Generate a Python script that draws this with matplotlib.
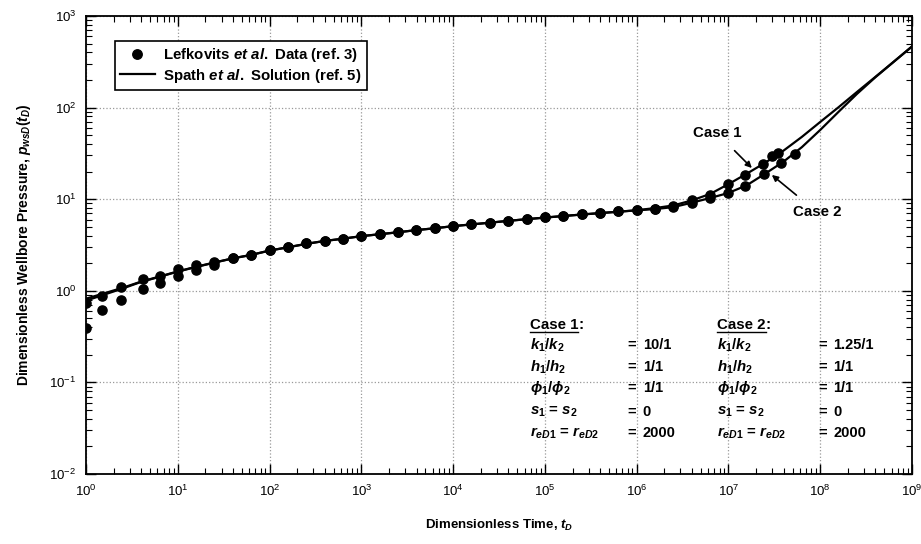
import numpy as np
import matplotlib
matplotlib.use("Agg")
import matplotlib.pyplot as plt
from matplotlib.ticker import LogLocator, NullFormatter
from matplotlib.lines import Line2D

plt.rcParams['font.family'] = ['Liberation Sans', 'DejaVu Sans']
plt.rcParams['mathtext.fontset'] = 'custom'
plt.rcParams['mathtext.rm'] = 'Liberation Sans:bold'
plt.rcParams['mathtext.it'] = 'Liberation Sans:italic:bold'
plt.rcParams['mathtext.bf'] = 'Liberation Sans:bold'

# ---- Data ----
# Solution curves (Spath et al.)
line_t = [1.0, 1.585, 2.512, 3.981, 6.31, 10.0, 15.85, 25.12, 39.81, 63.1,
          1.0e2, 1.585e2, 2.512e2, 3.981e2, 6.31e2, 1.0e3, 1.585e3, 2.512e3, 3.981e3, 6.31e3,
          1.0e4, 1.585e4, 2.512e4, 3.981e4, 6.31e4, 1.0e5, 1.585e5, 2.512e5, 3.981e5, 6.31e5,
          1.0e6, 1.585e6, 2.512e6, 3.981e6, 6.31e6, 1.0e7, 1.585e7, 2.512e7, 3.981e7, 6.31e7,
          1.0e8, 1.585e8, 2.512e8, 3.981e8, 6.31e8, 1.0e9]
case1_line = [0.82, 0.94, 1.08, 1.26, 1.43, 1.63, 1.83, 2.04, 2.26, 2.47,
              2.75, 2.99, 3.26, 3.50, 3.71, 3.95, 4.15, 4.36, 4.60, 4.82,
              5.08, 5.31, 5.54, 5.80, 6.05, 6.30, 6.55, 6.80, 7.05, 7.30,
              7.58, 8.00, 8.55, 9.70, 11.4, 14.6, 19.0, 25.0, 33.9, 47.9,
              69.7, 101.0, 148.0, 216.0, 316.0, 465.0]
case2_line = [0.78, 0.91, 1.06, 1.25, 1.42, 1.62, 1.82, 2.03, 2.26, 2.46,
              2.75, 2.98, 3.25, 3.50, 3.70, 3.95, 4.14, 4.35, 4.60, 4.81,
              5.08, 5.30, 5.54, 5.80, 6.05, 6.30, 6.55, 6.80, 7.05, 7.30,
              7.55, 7.80, 8.20, 9.15, 10.3, 11.7, 14.2, 19.0, 25.7, 37.0,
              57.0, 90.0, 141.0, 214.0, 316.0, 465.0]

# Lefkovits et al. data
case1_t = [1.0, 1.5, 2.4, 4.17, 6.46, 10.0, 15.85, 25.12, 39.81, 63.1,
           1.0e2, 1.585e2, 2.512e2, 3.981e2, 6.31e2, 1.0e3, 1.585e3, 2.512e3, 3.981e3, 6.31e3,
           1.0e4, 1.585e4, 2.512e4, 3.981e4, 6.31e4, 1.0e5, 1.585e5, 2.512e5, 3.981e5, 6.31e5,
           1.0e6, 1.585e6, 2.512e6, 3.981e6, 6.31e6, 1.0e7, 1.5e7, 2.35e7, 3.0e7, 3.45e7]
case1_p = [0.73, 0.88, 1.11, 1.34, 1.45, 1.72, 1.91, 2.08, 2.26, 2.46,
           2.79, 2.98, 3.30, 3.53, 3.68, 3.96, 4.14, 4.35, 4.61, 4.81,
           5.09, 5.32, 5.54, 5.82, 6.08, 6.34, 6.60, 6.90, 7.10, 7.40,
           7.60, 7.85, 8.45, 9.70, 11.2, 14.5, 18.5, 24.4, 29.3, 32.3]
case2_t = [1.0, 1.5, 2.4, 4.17, 6.46, 10.0, 15.85, 25.12, 39.81, 63.1,
           1.0e2, 1.585e2, 2.512e2, 3.981e2, 6.31e2, 1.0e3, 1.585e3, 2.512e3, 3.981e3, 6.31e3,
           1.0e4, 1.585e4, 2.512e4, 3.981e4, 6.31e4, 1.0e5, 1.585e5, 2.512e5, 3.981e5, 6.31e5,
           1.0e6, 1.585e6, 2.512e6, 3.981e6, 6.31e6, 1.0e7, 1.5e7, 2.45e7, 3.7e7, 5.25e7]
case2_p = [0.39, 0.61, 0.79, 1.04, 1.22, 1.45, 1.69, 1.91, 2.26, 2.46,
           2.79, 2.98, 3.30, 3.53, 3.68, 3.96, 4.14, 4.35, 4.61, 4.81,
           5.09, 5.32, 5.54, 5.82, 6.08, 6.34, 6.60, 6.90, 7.10, 7.40,
           7.55, 7.75, 8.20, 9.20, 10.3, 11.7, 13.8, 19.0, 24.6, 30.9]

case1_params = [r"$k_1/k_2$", r"$h_1/h_2$", r"$\phi_1/\phi_2$", r"$s_1$ = $s_2$",
                r"$r_{eD1}$ = $r_{eD2}$"]
case1_values = ["10/1", "1/1", "1/1", "0", "2000"]
case2_params = case1_params
case2_values = ["1.25/1", "1/1", "1/1", "0", "2000"]

# ---- Figure ----
fig = plt.figure(figsize=(9.21, 5.44), dpi=100)
ax = fig.add_axes([86/921, 70/544, 826/921, 458/544])
ax.set_xscale('log')
ax.set_yscale('log')
ax.set_xlim(1, 1e9)
ax.set_ylim(1e-2, 1e3)

ax.plot(line_t, case1_line, color='black', lw=1.6, zorder=3)
ax.plot(line_t, case2_line, color='black', lw=1.6, zorder=3)
ax.plot(case1_t, case1_p, 'o', color='black', ms=6.6, zorder=4)
ax.plot(case2_t, case2_p, 'o', color='black', ms=6.6, zorder=4)

ax.xaxis.set_major_locator(LogLocator(base=10, numticks=100))
ax.yaxis.set_major_locator(LogLocator(base=10, numticks=100))
ax.xaxis.set_minor_locator(LogLocator(base=10, subs=np.arange(2, 10), numticks=100))
ax.yaxis.set_minor_locator(LogLocator(base=10, subs=np.arange(2, 10), numticks=100))
ax.xaxis.set_minor_formatter(NullFormatter())
ax.yaxis.set_minor_formatter(NullFormatter())
ax.tick_params(which='both', direction='in', top=True, right=True, labelsize=9.5)
ax.tick_params(which='major', length=7, width=1.0, pad=7)
ax.tick_params(which='minor', length=4, width=0.8)
for sp in ax.spines.values():
    sp.set_linewidth(1.3)
ax.grid(True, which='major', linestyle=':', color='#999999', lw=0.9)

ax.set_xlabel(r"Dimensionless Time, $t_D$", fontsize=9.5, fontweight='bold', labelpad=14)
ax.set_ylabel(r"Dimensionless Wellbore Pressure, $p_{wsD}(t_D)$", fontsize=10,
              fontweight='bold', labelpad=12)

handles = [Line2D([], [], marker='o', color='black', ls='none', ms=6.8),
           Line2D([], [], color='black', lw=1.6)]
labels = [r"Lefkovits $et\ al.$ Data (ref. 3)", r"Spath $et\ al.$ Solution (ref. 5)"]
leg = ax.legend(handles, labels, loc='upper left', bbox_to_anchor=(0.035, 0.945),
                borderaxespad=0,
                prop={'weight': 'bold', 'size': 10.8}, frameon=True, fancybox=False,
                edgecolor='black', framealpha=1, borderpad=0.35, handlelength=2.3,
                labelspacing=0.15, handletextpad=0.55)
leg.get_frame().set_linewidth(1.2)

# Case annotations
ax.annotate("Case 1", xy=(1.8e7, 21.9), xytext=(7.5e6, 52.8), ha='center', va='center',
            fontsize=10.8, fontweight='bold',
            arrowprops=dict(arrowstyle='-|>', color='black', lw=1.2, shrinkA=8, shrinkB=0,
                            mutation_scale=9))
ax.annotate("Case 2", xy=(2.97e7, 18.4), xytext=(9.2e7, 7.25), ha='center', va='center',
            fontsize=10.8, fontweight='bold',
            arrowprops=dict(arrowstyle='-|>', color='black', lw=1.2, shrinkA=8, shrinkB=0,
                            mutation_scale=9))

# Parameter table
row_y = [0.282, 0.234, 0.188, 0.135, 0.0895]
heads = []
for (xl, xe, xv, title, params, values) in [
        (0.5375, 0.656, 0.674, "Case 1", case1_params, case1_values),
        (0.764, 0.887, 0.905, "Case 2", case2_params, case2_values)]:
    th = ax.text(xl, 0.325, title, transform=ax.transAxes, fontsize=10.8,
                 fontweight='bold', ha='left', va='center')
    ax.annotate(":", xy=(1, 0), xycoords=th, ha='left', va='bottom',
                fontsize=10.8, fontweight='bold')
    heads.append(th)
    for y, p, v in zip(row_y, params, values):
        ax.text(xl, y, p, transform=ax.transAxes, fontsize=10.8, fontweight='bold',
                ha='left', va='center')
        ax.text(xe, y, "=", transform=ax.transAxes, fontsize=10.5, fontweight='bold',
                ha='left', va='center')
        ax.text(xv, y, v, transform=ax.transAxes, fontsize=10.5, fontweight='bold',
                ha='left', va='center')

fig.canvas.draw()
for th in heads:
    bb = th.get_window_extent()
    fig.add_artist(Line2D([bb.x0, bb.x1], [bb.y0 + 0.5, bb.y0 + 0.5],
                          transform=None, color='black', lw=1.0))

fig.savefig("out.png", dpi=100)
